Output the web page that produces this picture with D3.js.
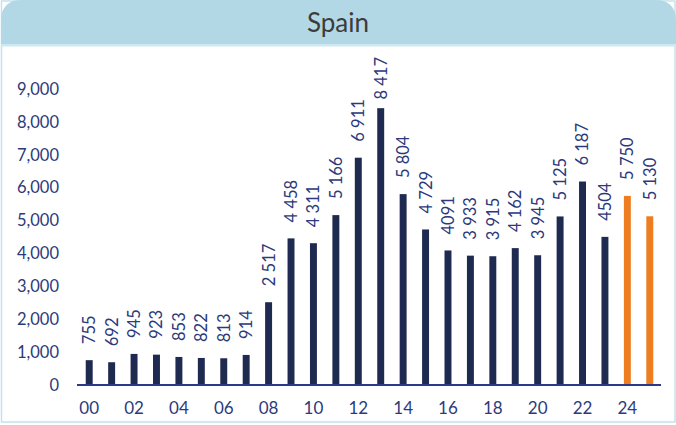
<!DOCTYPE html>
<html>
<head>
<meta charset="utf-8">
<script src="https://cdn.jsdelivr.net/npm/d3@7"></script>
<style>
  html, body { margin: 0; padding: 0; background: #ffffff; }
  svg { display: block; }
  text { font-family: Lato, "Open Sans", sans-serif; }
</style>
</head>
<body>
<svg id="chart" width="676" height="425"></svg>
<script>
// ---- data ----
const title = "Spain";
const years = ["00","01","02","03","04","05","06","07","08","09","10","11","12","13","14","15","16","17","18","19","20","21","22","23","24","25"];
const values = [755, 692, 945, 923, 853, 822, 813, 914, 2517, 4458, 4311, 5166, 6911, 8417, 5804, 4729, 4091, 3933, 3915, 4162, 3945, 5125, 6187, 4504, 5750, 5130];
const valueLabels = ["755","692","945","923","853","822","813","914","2 517","4 458","4 311","5 166","6 911","8 417","5 804","4 729","4091","3 933","3 915","4 162","3 945","5 125","6 187","4504","5 750","5 130"];
const highlighted = ["24","25"];
const yTicks = [0, 1000, 2000, 3000, 4000, 5000, 6000, 7000, 8000, 9000];
const xTickLabels = ["00","02","04","06","08","10","12","14","16","18","20","22","24"];

// ---- layout ----
const W = 676, H = 425;
const svg = d3.select("#chart");
const navy = "#1e2a50";
const textBlue = "#2c3a7c";
const orange = "#ee7d22";

// panel
svg.append("rect")
  .attr("x", 1.5).attr("y", 1).attr("width", W - 2.5).attr("height", 421)
  .attr("fill", "#ffffff").attr("stroke", "#c4e2ed").attr("stroke-width", 1.5);

// title bar with rounded top corners
const r = 21, tbH = 44, x0 = 1, x1 = W;
svg.append("path")
  .attr("d", `M${x0},${tbH} L${x0},${r} Q${x0},0 ${x0 + r},0 L${x1 - r},0 Q${x1},0 ${x1},${r} L${x1},${tbH} Z`)
  .attr("fill", "#b2d8e5");
svg.append("rect").attr("x", x0).attr("y", tbH).attr("width", x1 - x0).attr("height", 2.5)
  .attr("fill", "#cde8f1");
svg.append("text")
  .attr("x", 338).attr("y", 32)
  .attr("text-anchor", "middle")
  .attr("font-size", 26)
  .attr("fill", "#3c3c3c")
  .text(title);

// scales
const x = d3.scaleBand().domain(years).range([78, 661]).paddingInner(0.69).paddingOuter(0.345);
const y = d3.scaleLinear().domain([0, 9000]).range([385, 89]);

// y axis labels
const yAxis = d3.axisLeft(y).tickValues(yTicks).tickFormat(d3.format(",")).tickSize(0).tickPadding(0);
const gy = svg.append("g").attr("transform", "translate(59,0)").call(yAxis);
gy.select(".domain").remove();
gy.selectAll("text").attr("font-size", 16.5).attr("fill", textBlue)
  .attr("font-family", "Lato, 'Open Sans', sans-serif");

// bars
svg.append("g").selectAll("rect").data(years).join("rect")
  .attr("x", d => x(d))
  .attr("width", x.bandwidth())
  .attr("y", (d, i) => y(values[i]))
  .attr("height", (d, i) => y(0) - y(values[i]))
  .attr("fill", d => highlighted.includes(d) ? orange : navy);

// x axis line + labels
const xAxis = d3.axisBottom(x).tickValues(xTickLabels).tickSize(0).tickPadding(17);
const gx = svg.append("g").attr("transform", `translate(0,${y(0)})`).call(xAxis);
gx.select(".domain").attr("stroke", "#2b3a88").attr("stroke-width", 2.2)
  .attr("d", "M77,0H661");
gx.selectAll("text").attr("font-size", 17).attr("fill", textBlue)
  .attr("font-family", "Lato, 'Open Sans', sans-serif");

// value labels (rotated)
const lg = svg.append("g");
years.forEach((yr, i) => {
  const cx = x(yr) + x.bandwidth() / 2;
  const t = lg.append("text")
    .attr("font-size", 16.5)
    .attr("fill", textBlue)
    .attr("text-anchor", "start")
    .attr("dy", "0.36em")
    .text(valueLabels[i]);
  const len = t.node().getComputedTextLength();
  let base = y(values[i]) - 16;
  if (base - len < 57) base = 57 + len;
  t.attr("transform", `translate(${cx},${base}) rotate(-90)`);
});
</script>
</body>
</html>
